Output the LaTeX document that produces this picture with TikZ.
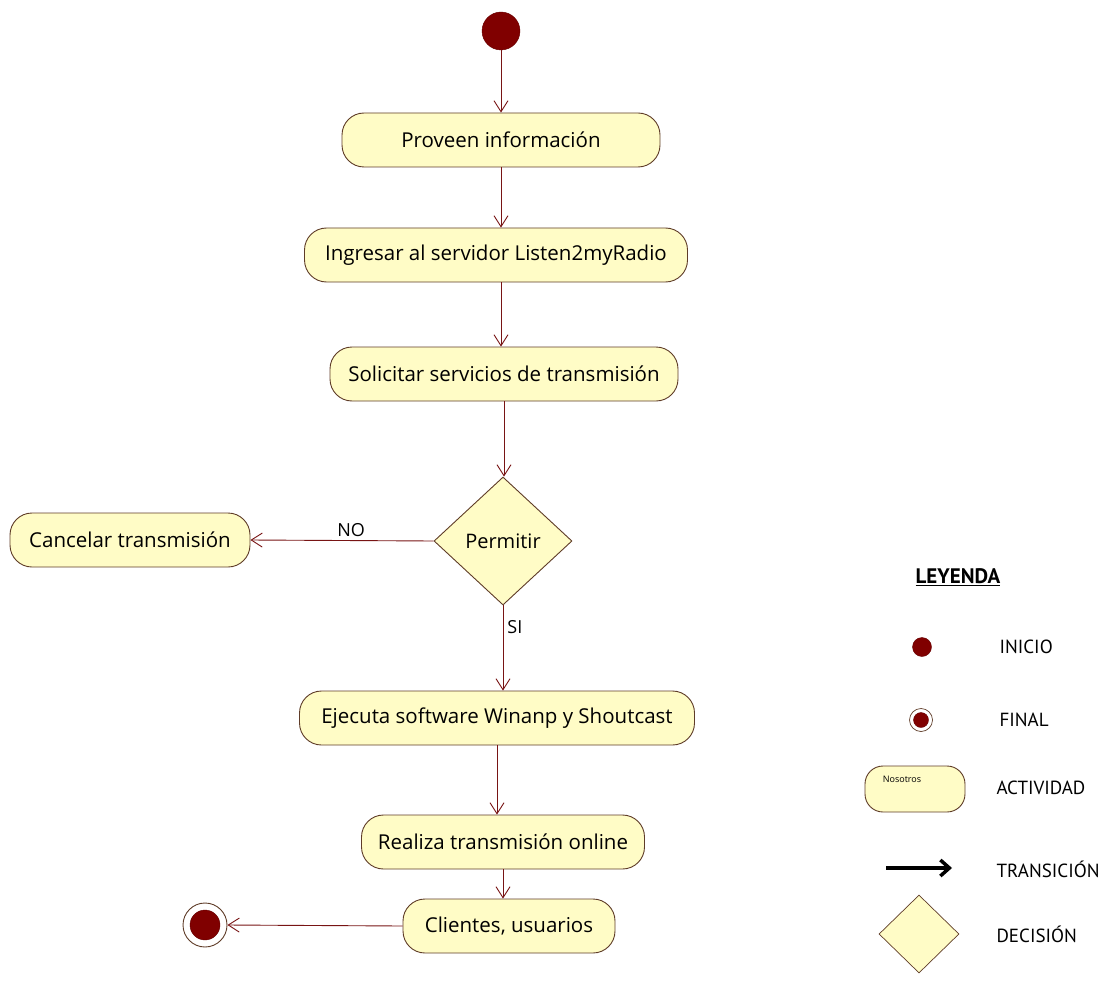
\documentclass[tikz,border=0pt]{standalone}
\usepackage{fontspec}
\setmainfont{Open Sans}
\newfontfamily\legfont{PT Sans}
\usetikzlibrary{arrows.meta,positioning,shapes.geometric}
\definecolor{cFill}{RGB}{255,252,198}
\definecolor{cEdge}{RGB}{95,60,40}
\definecolor{cLine}{RGB}{120,20,20}
\definecolor{cDot}{RGB}{128,0,0}
\tikzset{
	actbox/.style={draw=cEdge, line width=0.9pt, rounded corners=22pt,
		fill=cFill, minimum height=54pt, inner xsep=14pt, align=center,
		font=\fontsize{20.5}{24}\selectfont},
	decbox/.style={diamond, draw=cEdge, line width=0.9pt, fill=cFill,
		minimum width=138pt, minimum height=128pt, inner sep=0pt, aspect=1.08,
		font=\fontsize{20}{24}\selectfont},
	startdot/.style={circle, fill=cDot, draw=cDot!80!black, inner sep=0pt},
	trans/.style={-{Straight Barb[length=11pt,width=14pt]}, line width=0.9pt,
		draw=cLine},
	lbl/.style={font=\fontsize{18}{21}\selectfont, inner sep=1pt},
	legtext/.style={font=\legfont\fontsize{19}{22}\selectfont, anchor=west},
}
\begin{document}
\begin{tikzpicture}[x=1pt,y=-1pt]
			\useasboundingbox (0,0) rectangle (1107,984);

			% Main flow (center column)
			\node[startdot,minimum size=38pt] at (501,31)  (ini)  {};
			\node[actbox,minimum width=318pt] at (501,140) (prov) {Proveen información};
			\node[actbox,minimum width=383pt] at (496,255) (ingr) {Ingresar al servidor Listen2myRadio};
			\node[actbox,minimum width=348pt] at (504,374) (soli) {Solicitar servicios de transmisión};
			\node[decbox] at (503,541) (perm) {Permitir};
			\node[actbox,minimum width=240pt] at (130,540) (canc) {Cancelar transmisión};
			\node[actbox,minimum width=395pt] at (497,718) (ejec) {Ejecuta software Winanp y Shoutcast};
			\node[actbox,minimum width=283pt] at (503,842) (real) {Realiza transmisión online};
			\node[actbox,minimum width=212pt] at (509,926) (clie) {Clientes, usuarios};

			% Final state
			\node[circle,draw=cEdge,line width=0.9pt,fill=white,minimum size=44pt,inner sep=0pt] at (205,925) (fin) {};
			\node[startdot,minimum size=30pt] at (fin) (finin) {};

			% Transitions
			\draw[trans] (ini)        -- (ini |- prov.north);
			\draw[trans] (prov.south) -- (prov.south |- ingr.north);
			\draw[trans] (prov.south |- ingr.south) -- (prov.south |- soli.north);
			\draw[trans] (soli.south) -- (soli.south |- perm.north);
			\draw[trans] (perm.west)  -- node[lbl,above=2pt,pos=0.45] {NO} (canc.east);
			\draw[trans] (perm.south) -- node[lbl,right=3pt,pos=0.25] {SI} (perm.south |- ejec.north);
			\draw[trans] (ejec.south) -- (ejec.south |- real.north);
			\draw[trans] (real.south) -- (real.south |- clie.north);
			\draw[trans] (clie.west)  -- (fin.east);

			% Legend
			\node[font=\legfont\fontsize{21}{24}\selectfont\bfseries] at (958,577) (leg) {\underline{LEYENDA}};
			\node[startdot,minimum size=19pt] at (922,647) (lini) {};
			\node[legtext] at (996,647) (tini) {INICIO};
			\node[circle,draw=cEdge,line width=0.7pt,fill=white,minimum size=23pt,inner sep=0pt] at (921,720) (lfin) {};
			\node[startdot,minimum size=15pt] at (lfin) (lfinin) {};
			\node[legtext] at (996,720) (tfin) {FINAL};
			\node[actbox,minimum width=100pt,minimum height=46pt,rounded corners=18pt] at (915,789) (lact) {};
			\node[font=\fontsize{9}{11}\selectfont] at (902,779) (nos) {Nosotros};
			\node[legtext] at (993,788) (tact) {ACTIVIDAD};
			\coordinate (la) at (886,868);
			\coordinate (lb) at (952,868);
			\draw[-{Straight Barb[length=9pt,width=16pt]},line width=3.5pt,black] (la) -- (lb);
			\node[legtext] at (993,869) (ttra) {TRANSICIÓN};
			\node[diamond,draw=cEdge,line width=0.7pt,fill=cFill,minimum width=80pt,minimum height=78pt,inner sep=0pt] at (919,934) (ldec) {};
			\node[legtext] at (993,934) (tdec) {DECISIÓN};
		\end{tikzpicture}
\end{document}
